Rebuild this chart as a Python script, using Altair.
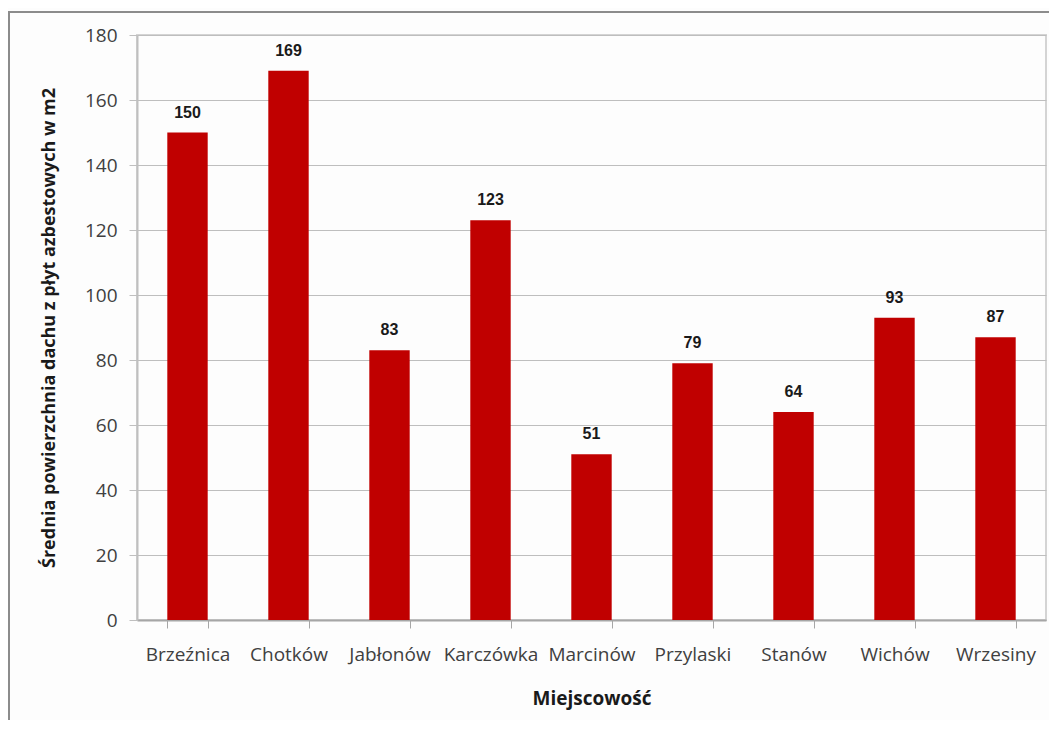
import altair as alt
import pandas as pd

categories = ["Brzeźnica", "Chotków", "Jabłonów", "Karczówka", "Marcinów",
              "Przylaski", "Stanów", "Wichów", "Wrzesiny"]
values = [150, 169, 83, 123, 51, 79, 64, 93, 87]
y_ticks = [0, 20, 40, 60, 80, 100, 120, 140, 160, 180]

df = pd.DataFrame({"Miejscowość": categories, "value": values})

W, H = 909, 585

x = alt.X("Miejscowość:N", sort=categories,
          scale=alt.Scale(paddingInner=0.6, paddingOuter=0.3),
          axis=alt.Axis(title="Miejscowość", labelAngle=0, tickBand="extent",
                        labelFont="Open Sans", labelFontSize=19, labelColor="#404040",
                        labelPadding=17, tickSize=8, tickColor="#A6A6A6", tickWidth=1,
                        domainColor="#A6A6A6", domainWidth=2,
                        titleFont="Open Sans", titleFontSize=19, titleFontWeight="bold",
                        titleColor="#1a1a1a", titlePadding=25, grid=False))
y = alt.Y("value:Q", scale=alt.Scale(domain=[0, 180], nice=False),
          axis=alt.Axis(title="Średnia powierzchnia dachu z płyt azbestowych w m2",
                        values=y_ticks, labelFont="Open Sans", labelFontSize=19,
                        labelColor="#404040", labelPadding=12, tickSize=8,
                        tickColor="#BFBFBF", domainColor="#BFBFBF", domainWidth=2,
                        gridColor="#BEBEBE", gridWidth=1,
                        titleFont="Open Sans", titleFontSize=18, titleFontWeight="bold",
                        titleColor="#1a1a1a", titlePadding=26))

bars = alt.Chart(df).mark_bar(color="#C00000").encode(x=x, y=y)
labels = alt.Chart(df).mark_text(font="Liberation Sans", fontSize=16,
                                 fontWeight="bold", color="#1a1a1a",
                                 baseline="bottom", dy=-12).encode(
    x=alt.X("Miejscowość:N", sort=categories), y="value:Q", text="value:Q")

frame_df = pd.DataFrame({"k": [0]})
left_border = alt.Chart(frame_df).mark_rule(color="#8C8C8C", strokeWidth=2).encode(
    x=alt.value(-128), y=alt.value(-23), y2=alt.value(H + 120))
top_border = alt.Chart(frame_df).mark_rule(color="#8C8C8C", strokeWidth=2).encode(
    x=alt.value(-129), x2=alt.value(W + 20), y=alt.value(-23))

chart = alt.layer(bars, labels, left_border, top_border).properties(
    width=W, height=H,
    padding={"left": 129, "top": 27, "right": 3, "bottom": 100},
    autosize=alt.AutoSizeParams(type="none"),
    background="#FDFDFD",
).configure_view(stroke="#D4D4D4", strokeWidth=2)

chart.save("out.html", embed_options={"renderer": "svg", "actions": False})
